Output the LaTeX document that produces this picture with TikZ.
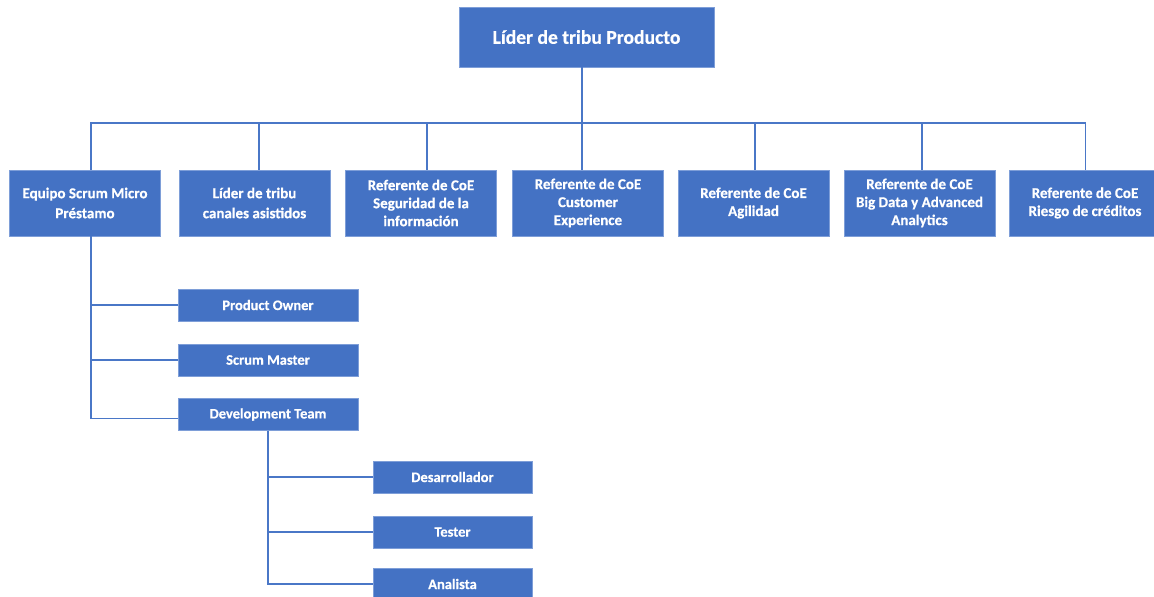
\documentclass[tikz,border=0pt]{standalone}
\usepackage{fontspec}
\setmainfont{Carlito}[FakeBold=0.5]
\definecolor{boxblue}{HTML}{4472C4}
\definecolor{rimblue}{HTML}{7E9ED8}
\definecolor{lineblue}{HTML}{4A77C7}
\begin{document}
\begin{tikzpicture}[x=1pt,y=-1pt,
  box/.style={fill=boxblue,draw=rimblue,line width=0.6pt,text=white,inner sep=0pt,align=center},
  rowbox/.style={box,minimum width=151pt,minimum height=66pt,font=\bfseries\fontsize{15}{18}\selectfont},
  rowboxb/.style={box,minimum width=151pt,minimum height=66pt,font=\bfseries\fontsize{15}{20}\selectfont},
  subbox/.style={box,minimum width=180pt,minimum height=32pt,font=\bfseries\fontsize{14.5}{17}\selectfont},
  leafbox/.style={box,minimum width=159pt,minimum height=32pt,font=\bfseries\fontsize{14.5}{17}\selectfont},
  link/.style={draw=lineblue,line width=1.7pt}]
\useasboundingbox (0,0) rectangle (1154,597);
\clip (0,0) rectangle (1154,597);
% top
\node[box,minimum width=255pt,minimum height=60pt,font=\bfseries\fontsize{19.6}{23}\selectfont] (top) at (586.5,37) {Líder de tribu Producto};
% second row
\node[rowboxb] (b1) at (85,203) {Equipo Scrum Micro\\Préstamo};
\node[rowboxb] (b2) at (254.5,203) {Líder de tribu\\canales asistidos};
\node[rowbox] (b3) at (421,203) {Referente de CoE\\Seguridad de la\\información};
\node[rowbox] (b4) at (588,203) {Referente de CoE\\Customer\\Experience};
\node[rowbox] (b5) at (753.5,203) {Referente de CoE\\Agilidad};
\node[rowbox] (b6) at (919.5,203) {Referente de CoE\\Big Data y Advanced\\Analytics};
\node[rowbox] (b7) at (1085,203) {Referente de CoE\\Riesgo de créditos};
% scrum team
\node[subbox] (po) at (268,305) {Product Owner};
\node[subbox] (sm) at (268,360) {Scrum Master};
\node[subbox] (dt) at (268,414.5) {Development Team};
% development team
\node[leafbox] (des) at (452.5,477) {Desarrollador};
\node[leafbox] (tes) at (452.5,532) {Tester};
\node[leafbox] (ana) at (452.5,584) {Analista};
% connectors top
\begin{scope}[link]
\draw ([xshift=-4.5pt]top.south) -- ++(0,56) -| ([xshift=6pt]b1.north);
\draw ([xshift=-4.5pt]top.south) -- ++(0,56) -| ([xshift=4.5pt]b2.north);
\draw ([xshift=-4.5pt]top.south) -- ++(0,56) -| ([xshift=6pt]b3.north);
\draw ([xshift=-4.5pt]top.south) -- ++(0,56) -| ([xshift=-6pt]b4.north);
\draw ([xshift=-4.5pt]top.south) -- ++(0,56) -| ([xshift=1.5pt]b5.north);
\draw ([xshift=-4.5pt]top.south) -- ++(0,56) -| ([xshift=2.5pt]b6.north);
\draw ([xshift=-4.5pt]top.south) -- ++(0,56) -| ([xshift=0.5pt]b7.north);
% scrum team
\draw ([xshift=6pt]b1.south) |- (po.west);
\draw ([xshift=6pt]b1.south) |- (sm.west);
\draw ([xshift=6pt]b1.south) |- ([yshift=-4pt]dt.west);
% dev team
\draw (dt.south) |- (des.west);
\draw (dt.south) |- (tes.west);
\draw (dt.south) |- (ana.west);
\end{scope}
\end{tikzpicture}
\end{document}
